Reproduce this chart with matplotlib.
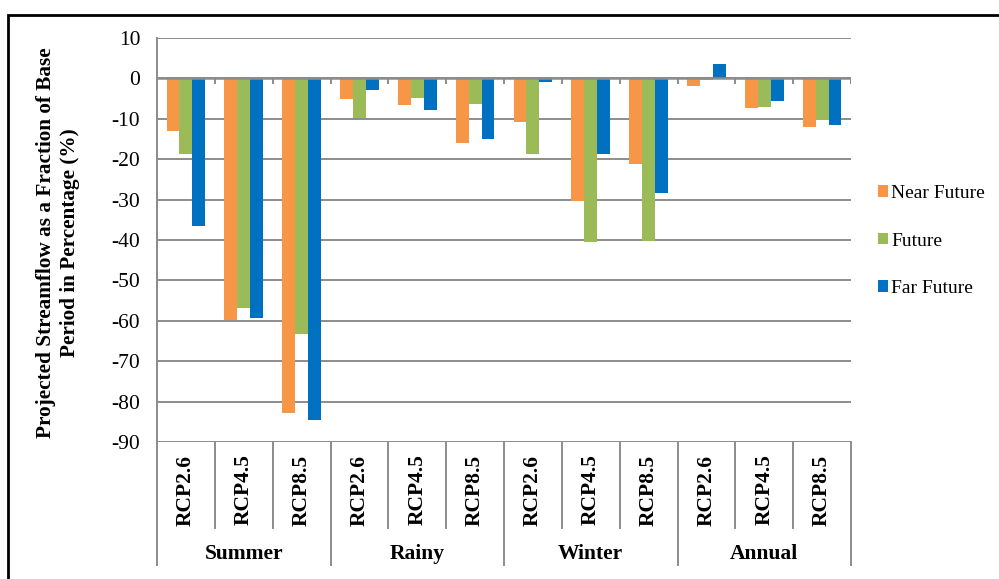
import matplotlib
matplotlib.use("Agg")
import matplotlib.pyplot as plt
import matplotlib.transforms as mtransforms
from matplotlib.patches import Rectangle
import numpy as np

# ---- data ----
groups = ["Summer", "Rainy", "Winter", "Annual"]
scenarios = ["RCP2.6", "RCP4.5", "RCP8.5"]
series_names = ["Near Future", "Future", "Far Future"]
near_future = [-13.1, -59.8, -82.7, -5.2, -6.7, -16.0, -10.7, -30.4, -21.1, -2.0, -7.4, -12.1]
future = [-18.7, -56.8, -63.2, -9.9, -4.9, -6.4, -18.7, -40.4, -40.2, -0.5, -7.1, -10.4]
far_future = [-36.6, -59.4, -84.6, -2.9, -7.7, -15.1, -0.8, -18.8, -28.3, 3.5, -5.7, -11.6]
yticks = [10, 0, -10, -20, -30, -40, -50, -60, -70, -80, -90]
colors = ["#F79646", "#9BBB59", "#0070C0"]

W, H = 999, 579
fig = plt.figure(figsize=(W / 100, H / 100), dpi=100)
serif = ["Liberation Serif", "DejaVu Serif"]
plt.rcParams["font.family"] = serif

left, right, top, bottom = 157, 851, 38, 442
ax = fig.add_axes([left / W, 1 - bottom / H, (right - left) / W, (bottom - top) / H])

n = len(groups) * len(scenarios)
x = np.arange(n)
bw = 0.222
handles = []
for k, (vals, c, name) in enumerate(zip([near_future, future, far_future], colors, series_names)):
    b = ax.bar(x + (k - 1) * bw, vals, width=bw, color=c, edgecolor="none", label=name, zorder=3)
    handles.append(b)

ax.set_xlim(-0.5, n - 0.5)
ax.set_ylim(-90, 10)
ax.set_yticks(yticks)
ax.set_yticklabels([str(t) for t in yticks], fontsize=15.5)
ax.tick_params(axis="y", length=0, pad=12)
ax.yaxis.grid(True, color="#8c8c8c", lw=1.4, zorder=0)
ax.set_axisbelow(True)
for s in ["top", "right", "bottom"]:
    ax.spines[s].set_visible(False)
ax.spines["left"].set_color("#8c8c8c")
ax.spines["left"].set_linewidth(1.4)

# zero axis line with boundary ticks
ax.axhline(0, color="#8c8c8c", lw=1.8, zorder=4)
bounds = np.arange(n + 1) - 0.5
ax.vlines(bounds[1:], -1.3, 0, color="#8c8c8c", lw=1.4, zorder=4)

# category labels
ax.set_xticks(x)
ax.set_xticklabels(scenarios * len(groups), rotation=90, fontsize=15.5, fontweight="bold")
ax.tick_params(axis="x", length=0, pad=9)

trans = mtransforms.blended_transform_factory(ax.transData, ax.transAxes)
ah = (bottom - top)
cat_bottom = -(528 - bottom) / ah
grp_bottom = -(565 - bottom) / ah
for i, b in enumerate(bounds):
    y0 = grp_bottom if i % 3 == 0 else cat_bottom
    ax.plot([b, b], [0, y0], transform=trans, color="#8c8c8c", lw=1.4, clip_on=False)
grp_y = -(554 - bottom) / ah
for g, name in enumerate(groups):
    ax.text(g * 3 + 1, grp_y, name, transform=trans, ha="center", va="center",
            fontsize=15.5, fontweight="bold")

# y label
fig.text(58 / W, 1 - 243 / H,
         "Projected Streamflow as a Fraction of Base\nPeriod in Percentage (%)",
         rotation=90, ha="center", va="center", fontsize=15.3, fontweight="bold",
         linespacing=1.3)

# legend
fig.legend(handles=handles, labels=series_names, loc="center left",
           bbox_to_anchor=(868 / W, 1 - 241 / H), frameon=False, fontsize=14,
           handlelength=0.55, handleheight=0.55, handletextpad=0.15,
           labelspacing=1.58, borderpad=0)

# outer frame
fig.patches.append(Rectangle((8 / W, -0.1), 2, 1 - 15 / H + 0.1, transform=fig.transFigure,
                             fill=False, edgecolor="black", lw=2))

fig.savefig("out.png", dpi=100)
